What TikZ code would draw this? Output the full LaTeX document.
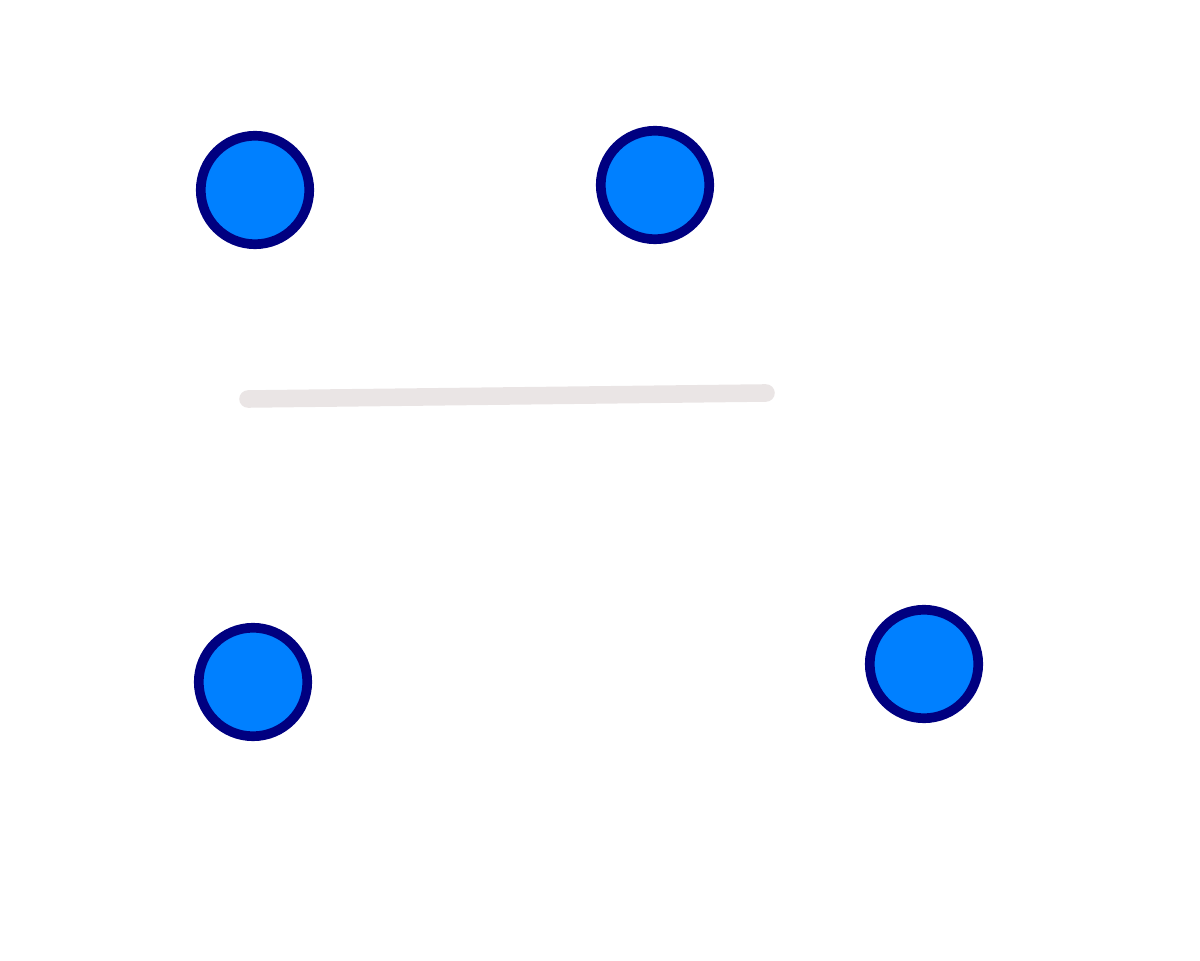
\documentclass[tikz,border=0pt]{standalone}
\usepackage{tikz}
\usetikzlibrary{positioning}
\usepackage{xcolor}
\definecolor{dotfill}{HTML}{0080FF}
\definecolor{dotedge}{HTML}{000080}
\definecolor{barline}{HTML}{EAE5E5}

\begin{document}
\begin{tikzpicture}[
  dot/.style={circle,fill=dotfill,draw=dotedge,line width=5.5pt,minimum size=2.17cm,inner sep=0pt}
]
  \useasboundingbox (0,0) rectangle (24,19.2);

  % top row
  \node[dot] (topleft) at (5.10,15.40) {};
  \node[dot] (topright) at (13.10,15.50) {};

  % bar
  \coordinate (barleft) at (4.96,11.22);
  \coordinate (barright) at (15.32,11.34);
  \draw[barline,line width=10pt,line cap=round] (barleft) -- (barright);

  % bottom row
  \node[dot] (bottomleft) at (5.06,5.56) {};
  \node[dot] (bottomright) at (18.48,5.92) {};
\end{tikzpicture}
\end{document}
